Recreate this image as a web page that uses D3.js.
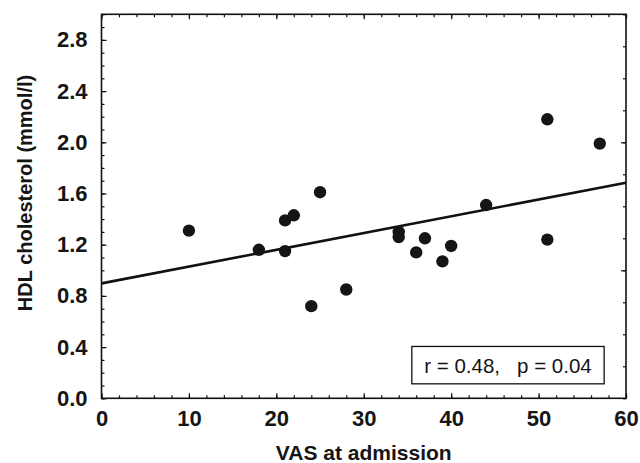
<!DOCTYPE html>
<html>
<head>
<meta charset="utf-8">
<script src="https://cdn.jsdelivr.net/npm/d3@7"></script>
<style>
  body { margin: 0; background: #fff; }
  svg { display: block; font-family: "Liberation Sans", Arial, sans-serif; }
  .tick line { stroke: #111; }
</style>
</head>
<body>
<div id="chart"></div>
<script>
(function() {

  // VAS at admission vs HDL cholesterol
  const vas = [10, 18, 21, 21, 22, 24, 25, 28, 34, 34, 36, 37, 39, 40, 44, 51, 51, 57];
  const hdl = [1.31, 1.16, 1.15, 1.39, 1.43, 0.72, 1.61, 0.85, 1.30, 1.26, 1.14, 1.25, 1.07, 1.19, 1.51, 2.18, 1.24, 1.99];

  // regression line end points
  const fitX = [0, 60];
  const fitY = [0.898, 1.684];

  const xMajor = [0, 10, 20, 30, 40, 50, 60];
  const yMajor = [0.0, 0.4, 0.8, 1.2, 1.6, 2.0, 2.4, 2.8];
  const statText = 'r = 0.48,   p = 0.04';

  const width = 640, height = 463;
  const plot = { left: 101.5, right: 626, top: 14.3, bottom: 398.3 };

  const svg = d3.select('#chart').append('svg')
    .attr('width', width)
    .attr('height', height);

  const x = d3.scaleLinear().domain([0, 60]).range([plot.left, plot.right]);
  const y = d3.scaleLinear().domain([0, 3]).range([plot.bottom, plot.top]);

  const ink = '#111';
  const textInk = '#151515';

  // minor ticks first
  svg.append('g')
    .attr('transform', `translate(0, ${plot.bottom})`)
    .call(d3.axisBottom(x).tickValues(d3.range(0, 61, 2)).tickSize(-3).tickFormat(''));
  svg.append('g')
    .attr('transform', `translate(0, ${plot.top})`)
    .call(d3.axisTop(x).tickValues(d3.range(0, 61, 2)).tickSize(-3).tickFormat(''));
  svg.append('g')
    .attr('transform', `translate(${plot.left}, 0)`)
    .call(d3.axisLeft(y).tickValues(d3.range(0, 3.01, 0.1)).tickSize(-3).tickFormat(''));
  svg.append('g')
    .attr('transform', `translate(${plot.right}, 0)`)
    .call(d3.axisRight(y).tickValues(d3.range(0, 3.01, 0.25)).tickSize(-3).tickFormat(''));

  // major ticks + labels
  const xAxis = svg.append('g')
    .attr('transform', `translate(0, ${plot.bottom})`)
    .call(d3.axisBottom(x).tickValues(xMajor).tickSize(-5).tickPadding(12).tickFormat(d3.format('d')));
  const yAxis = svg.append('g')
    .attr('transform', `translate(${plot.left}, 0)`)
    .call(d3.axisLeft(y).tickValues(yMajor).tickSize(-5).tickPadding(14).tickFormat(d3.format('.1f')));
  svg.append('g')
    .attr('transform', `translate(0, ${plot.top})`)
    .call(d3.axisTop(x).tickValues(xMajor).tickSize(-5).tickFormat(''));
  svg.append('g')
    .attr('transform', `translate(${plot.right}, 0)`)
    .call(d3.axisRight(y).tickValues([1, 2]).tickSize(-5).tickFormat(''));

  svg.selectAll('.domain').remove();
  svg.selectAll('.tick line').attr('stroke', ink).attr('stroke-width', 1.2);

  [xAxis, yAxis].forEach(a => {
    a.attr('font-size', null).attr('font-family', null);
    a.selectAll('text')
      .attr('fill', textInk)
      .style('font-size', '22px')
      .style('font-weight', 'bold')
      .style('font-family', '"Liberation Sans", Arial, sans-serif');
  });

  // frame
  svg.append('rect')
    .attr('x', plot.left)
    .attr('y', plot.top)
    .attr('width', plot.right - plot.left)
    .attr('height', plot.bottom - plot.top)
    .attr('fill', 'none')
    .attr('stroke', ink)
    .attr('stroke-width', 1.6);

  // regression line
  const line = d3.line()
    .x(d => x(d[0]))
    .y(d => y(d[1]));
  svg.append('path')
    .datum(fitX.map((v, i) => [v, fitY[i]]))
    .attr('d', line)
    .attr('fill', 'none')
    .attr('stroke', ink)
    .attr('stroke-width', 2.6);

  // points
  svg.append('g')
    .selectAll('circle')
    .data(vas.map((v, i) => ({ x: v, y: hdl[i] })))
    .enter()
    .append('circle')
      .attr('cx', d => x(d.x))
      .attr('cy', d => y(d.y))
      .attr('r', 6.2)
      .attr('fill', '#151515');

  // stats box
  const box = { x0: 35.5, x1: 57.5, y0: 0.113, y1: 0.405 };
  svg.append('rect')
    .attr('x', x(box.x0))
    .attr('y', y(box.y1))
    .attr('width', x(box.x1) - x(box.x0))
    .attr('height', y(box.y0) - y(box.y1))
    .attr('fill', '#fff')
    .attr('stroke', ink)
    .attr('stroke-width', 1.3);
  svg.append('text')
    .attr('x', (x(box.x0) + x(box.x1)) / 2)
    .attr('y', 373)
    .attr('text-anchor', 'middle')
    .style('font-size', '20.5px')
    .attr('fill', textInk)
    .style('white-space', 'pre')
    .attr('xml:space', 'preserve')
    .text(statText);

  // axis titles
  svg.append('text')
    .attr('x', (plot.left + plot.right) / 2)
    .attr('y', 460)
    .attr('text-anchor', 'middle')
    .style('font-size', '21px')
    .style('font-weight', 'bold')
    .attr('fill', textInk)
    .text('VAS at admission');
  svg.append('text')
    .attr('transform', `translate(32, ${193}) rotate(-90)`)
    .attr('text-anchor', 'middle')
    .style('font-size', '20px')
    .style('font-weight', 'bold')
    .attr('fill', textInk)
    .text('HDL cholesterol (mmol/l)');
}());
</script>
</body>
</html>
